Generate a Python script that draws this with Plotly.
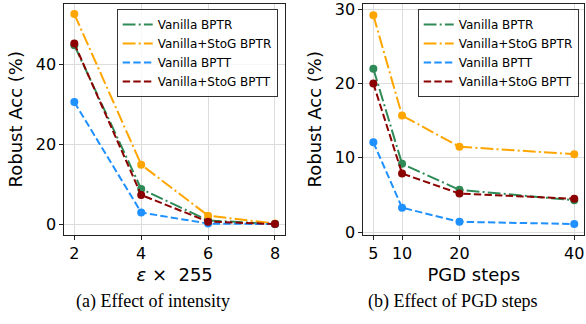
import plotly.graph_objects as go

# ---------------- data ----------------
eps_values = [2, 4, 6, 8]
pgd_steps = [5, 10, 20, 40]
series_names = ["Vanilla BPTR", "Vanilla+StoG BPTR", "Vanilla BPTT", "Vanilla+StoG BPTT"]

eps_vanilla_bptr = [44.9, 8.8, 0.9, 0.0]
eps_stog_bptr = [52.7, 14.9, 2.1, 0.1]
eps_vanilla_bptt = [30.6, 2.9, 0.1, 0.0]
eps_stog_bptt = [45.3, 7.3, 0.6, 0.0]

pgd_vanilla_bptr = [22.0, 9.2, 5.7, 4.3]
pgd_stog_bptr = [29.2, 15.7, 11.5, 10.5]
pgd_vanilla_bptt = [12.1, 3.3, 1.4, 1.1]
pgd_stog_bptt = [20.0, 7.9, 5.2, 4.5]

eps_ticks = [2, 4, 6, 8]
eps_yticks = [0, 20, 40]
pgd_ticks = [5, 10, 20, 40]
pgd_yticks = [0, 10, 20, 30]

# ---------------- styles ----------------
colors = ["#2e8b57", "#ffa500", "#1e90ff", "#8b0000"]
DASHDOT = "12.8px,3.2px,2px,3.2px"
DASHED = "7.4px,3.2px"
dashes = [DASHDOT, DASHDOT, DASHED, DASHED]
FONT = "DejaVu Sans"

fig = go.Figure()

panels = [
    ("x", "y", "legend", eps_values,
     [eps_vanilla_bptr, eps_stog_bptr, eps_vanilla_bptt, eps_stog_bptt]),
    ("x2", "y2", "legend2", pgd_steps,
     [pgd_vanilla_bptr, pgd_stog_bptr, pgd_vanilla_bptt, pgd_stog_bptt]),
]

for xa, ya, leg, xs, ys_list in panels:
    for name, ys, c, d in zip(series_names, ys_list, colors, dashes):
        fig.add_trace(go.Scatter(
            x=xs, y=ys, mode="lines", name=name,
            line=dict(color=c, width=2, dash=d),
            xaxis=xa, yaxis=ya, legend=leg, showlegend=True,
            legendgroup=leg + name, hoverinfo="skip"))
        fig.add_trace(go.Scatter(
            x=xs, y=ys, mode="markers", name=name,
            marker=dict(color=c, size=8, line=dict(width=0)),
            xaxis=xa, yaxis=ya, showlegend=False,
            legendgroup=leg + name))

axis_common = dict(
    showgrid=True, gridcolor="#dcdcdc", gridwidth=1,
    showline=True, mirror=True, linecolor="#222222", linewidth=1,
    ticks="outside", ticklen=4, tickcolor="#222222", tickwidth=1,
    tickfont=dict(family=FONT, size=16, color="black"),
    ticklabeloverflow="allow",
    zeroline=False, automargin=False,
)

W, H = 586, 324
ydom = [1 - 234.5 / H, 1 - 4 / H]

legend_common = dict(
    xanchor="right", y=1 - 9 / H, yanchor="top",
    bgcolor="rgba(255,255,255,0.8)", bordercolor="#333333", borderwidth=1,
    font=dict(family=FONT, size=12, color="black"),
    tracegroupgap=0, itemwidth=30)

fig.update_layout(
    width=W, height=H,
    margin=dict(l=0, r=0, t=0, b=0),
    paper_bgcolor="white", plot_bgcolor="white",
    font=dict(family=FONT, color="black"),
    xaxis=dict(axis_common, domain=[64.3 / W, 285 / W], range=[1.7, 8.3],
               tickvals=eps_ticks, anchor="y",
               title=dict(text="<i>ε</i> ×  255", font=dict(size=18), standoff=6)),
    yaxis=dict(axis_common, domain=ydom, range=[-2.63, 55.23],
               tickvals=eps_yticks, anchor="x",
               title=dict(text="Robust Acc (%)", font=dict(size=18), standoff=8)),
    xaxis2=dict(axis_common, domain=[363.3 / W, 584.3 / W], range=[3.25, 41.75],
                tickvals=pgd_ticks, anchor="y2",
                title=dict(text="PGD steps", font=dict(size=18), standoff=6)),
    yaxis2=dict(axis_common, domain=ydom, range=[-0.31, 30.71],
                tickvals=pgd_yticks, anchor="x2",
                title=dict(text="Robust Acc (%)", font=dict(size=18), standoff=8)),
    legend=dict(legend_common, x=277.7 / W),
    legend2=dict(legend_common, x=578.7 / W),
    annotations=[
        dict(text="(a) Effect of intensity", x=153 / W, y=1 - 301 / H,
             xref="paper", yref="paper", xanchor="center", yanchor="middle",
             showarrow=False, font=dict(family="Liberation Serif", size=18, color="black")),
        dict(text="(b) Effect of PGD steps", x=453 / W, y=1 - 301 / H,
             xref="paper", yref="paper", xanchor="center", yanchor="middle",
             showarrow=False, font=dict(family="Liberation Serif", size=18, color="black")),
    ],
)

fig.write_html("out.html",
               config={"displayModeBar": False},
               post_script="document.body.style.margin='0';document.body.style.overflow='hidden';")
